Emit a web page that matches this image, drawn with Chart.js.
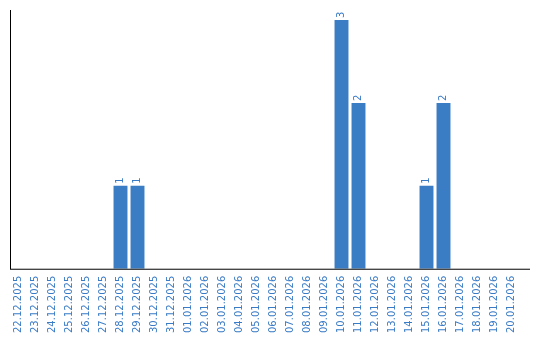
<!DOCTYPE html>
<html>
<head>
    <title>Daily counts</title>
    <script src="https://cdn.jsdelivr.net/npm/chart.js"></script>
    <style>
        html, body { margin: 0; padding: 0; background: #fff; }
        .chart-container { position: relative; width: 540px; height: 340px; }
    </style>
</head>
<body>
    <div class="chart-container">
        <canvas id="countChart"></canvas>
    </div>

    <script>
        // Data
        const days = [
            '22.12.2025', '23.12.2025', '24.12.2025', '25.12.2025', '26.12.2025',
            '27.12.2025', '28.12.2025', '29.12.2025', '30.12.2025', '31.12.2025',
            '01.01.2026', '02.01.2026', '03.01.2026', '04.01.2026', '05.01.2026',
            '06.01.2026', '07.01.2026', '08.01.2026', '09.01.2026', '10.01.2026',
            '11.01.2026', '12.01.2026', '13.01.2026', '14.01.2026', '15.01.2026',
            '16.01.2026', '17.01.2026', '18.01.2026', '19.01.2026', '20.01.2026'
        ];
        const counts = [
            0, 0, 0, 0, 0,
            0, 1, 1, 0, 0,
            0, 0, 0, 0, 0,
            0, 0, 0, 0, 3,
            2, 0, 0, 0, 1,
            2, 0, 0, 0, 0
        ];

        const barColor = '#3b7dc4';
        const textColor = '#3a7bc6';
        const labelFont = '10px "DejaVu Sans", sans-serif';

        // value labels above bars, rotated like the axis labels
        const valueLabels = {
            id: 'valueLabels',
            afterDatasetsDraw(chart) {
                const ctx = chart.ctx;
                const meta = chart.getDatasetMeta(0);
                ctx.save();
                ctx.font = labelFont;
                ctx.fillStyle = textColor;
                ctx.textAlign = 'left';
                ctx.textBaseline = 'middle';
                meta.data.forEach((bar, i) => {
                    if (!counts[i]) return;
                    ctx.save();
                    ctx.translate(bar.x, bar.y - 2);
                    ctx.rotate(-Math.PI / 2);
                    ctx.fillText(String(counts[i]), 0, 0);
                    ctx.restore();
                });
                ctx.restore();
            }
        };

        // x axis line runs a bit past the last category
        const baseLine = {
            id: 'baseLine',
            afterDraw(chart) {
                const ctx = chart.ctx;
                const a = chart.chartArea;
                ctx.save();
                ctx.strokeStyle = '#000';
                ctx.lineWidth = 1;
                ctx.beginPath();
                ctx.moveTo(a.left, a.bottom + 0.5);
                ctx.lineTo(a.right + 10, a.bottom + 0.5);
                ctx.stroke();
                ctx.restore();
            }
        };

        const ctx = document.getElementById('countChart').getContext('2d');
        const countChart = new Chart(ctx, {
            type: 'bar',
            data: {
                labels: days,
                datasets: [{
                    data: counts,
                    backgroundColor: barColor,
                    borderWidth: 0,
                    categoryPercentage: 1.0,
                    barPercentage: 0.82
                }]
            },
            options: {
                responsive: true,
                maintainAspectRatio: false,
                animation: false,
                layout: { padding: { left: 10, top: 10, right: 20, bottom: 0 } },
                plugins: {
                    legend: { display: false },
                    tooltip: { enabled: false }
                },
                scales: {
                    x: {
                        grid: { display: false, drawTicks: false },
                        border: { display: false },
                        ticks: {
                            color: textColor,
                            font: { family: '"DejaVu Sans", sans-serif', size: 10 },
                            minRotation: 90,
                            maxRotation: 90,
                            autoSkip: false,
                            padding: 7
                        }
                    },
                    y: {
                        min: 0,
                        max: Math.max(...counts) * 1.04,
                        grid: { display: false, drawTicks: false },
                        border: { display: true, color: '#000', width: 1 },
                        ticks: { display: false }
                    }
                }
            },
            plugins: [valueLabels, baseLine]
        });
    </script>
</body>
</html>
